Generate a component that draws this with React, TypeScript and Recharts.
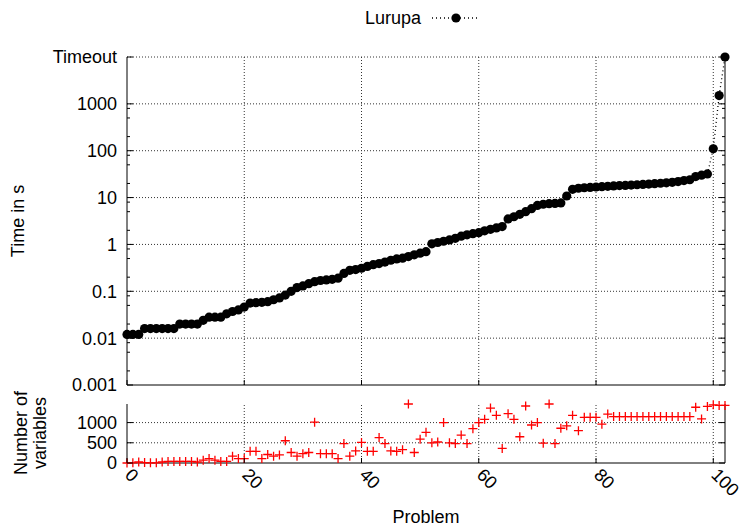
import React from 'react';
import { ComposedChart, Line, XAxis, YAxis, ReferenceLine, Legend } from 'recharts';

const FONT = '"Liberation Sans", Arial, Helvetica, sans-serif';
const FS = 18;

const seriesName = 'Lurupa';

const times = [
  0.012, 0.012, 0.012, 0.016, 0.016, 0.016, 0.016, 0.016, 0.016, 0.02,
  0.02, 0.02, 0.02, 0.024, 0.028, 0.028, 0.028, 0.033, 0.037, 0.04,
  0.046, 0.056, 0.057, 0.058, 0.06, 0.066, 0.072, 0.083, 0.1, 0.12,
  0.13, 0.145, 0.16, 0.17, 0.175, 0.18, 0.19, 0.24, 0.28, 0.29,
  0.31, 0.34, 0.37, 0.39, 0.42, 0.46, 0.49, 0.51, 0.55, 0.6,
  0.65, 0.7, 1.03, 1.1, 1.17, 1.25, 1.35, 1.5, 1.6, 1.7,
  1.78, 1.95, 2.1, 2.25, 2.4, 3.5, 3.9, 4.4, 5.0, 5.8,
  6.8, 7.2, 7.4, 7.5, 7.7, 10.8, 15, 15.8, 16.2, 16.5,
  16.8, 17.1, 17.4, 17.7, 18, 18.2, 18.5, 18.8, 19.1, 19.4,
  19.8, 20.2, 20.6, 21.2, 22, 23, 24, 28, 30, 32,
  110, 1500, 10000,
];

const variables = [
  0, 5, 25, 10, 5, 5, 25, 40, 40, 40,
  40, 40, 25, 70, 110, 70, 40, 40, 170, 110,
  110, 290, 290, 110, 210, 170, 200, 550, 260, 170,
  230, 260, 1010, 230, 230, 230, 110, 480, 170, 300,
  510, 290, 290, 630, 480, 300, 290, 330, 1460, 260,
  590, 760, 500, 520, 1000, 500, 480, 690, 480, 850,
  1000, 1080, 1360, 1180, 360, 1220, 1080, 650, 1410, 940,
  1000, 490, 1460, 480, 860, 920, 1180, 800, 1130, 1130,
  1130, 960, 1210, 1150, 1150, 1150, 1150, 1150, 1150, 1150,
  1150, 1150, 1150, 1150, 1150, 1150, 1150, 1380, 1090, 1400,
  1440, 1425, 1425,
];

const problemTicks = [0, 20, 40, 60, 80, 100];
const problemDomain = [0, 102];
const timeMajorTicks = [0.001, 0.01, 0.1, 1, 10, 100, 1000, 10000];
const timeMajorLabels = ['0.001', '0.01', '0.1', '1', '10', '100', '1000', 'Timeout'];
const minorFactors = [2, 5, 8];
const varTicks = [0, 500, 1000];
const varTickLabels = ['0', '500', '1000'];
const varDomain = [0, 1460];

const timeMinorTicks = timeMajorTicks
  .slice(0, -2)
  .flatMap((d) => minorFactors.map((f) => +(d * f).toPrecision(3)));
const allTimeTicks = [...timeMajorTicks, ...timeMinorTicks].sort((a, b) => a - b);

const data = times.map((t, i) => ({ problem: i, time: t, vars: variables[i] }));

const PLOT_W = 598;
const GRID = { stroke: '#333', strokeWidth: 1, strokeDasharray: '1 2' };

function TimeTick(props: any) {
  const { x, y, payload } = props;
  const v = payload.value;
  const mi = timeMajorTicks.indexOf(v);
  const len = mi >= 0 ? 6 : 3;
  return (
    <g>
      <line x1={x} x2={x + len} y1={y} y2={y} stroke="#000" />
      <line x1={x + PLOT_W} x2={x + PLOT_W - len} y1={y} y2={y} stroke="#000" />
      {mi >= 0 && (
        <text x={x - 10} y={y} dy="0.36em" textAnchor="end" fontSize={FS} fontFamily={FONT} fill="#000">
          {timeMajorLabels[mi]}
        </text>
      )}
    </g>
  );
}

function VarTick(props: any) {
  const { x, y, payload } = props;
  const mi = varTicks.indexOf(payload.value);
  return (
    <g>
      <line x1={x} x2={x + 6} y1={y} y2={y} stroke="#000" />
      <line x1={x + PLOT_W} x2={x + PLOT_W - 6} y1={y} y2={y} stroke="#000" />
      <text x={x - 10} y={y} dy="0.36em" textAnchor="end" fontSize={FS} fontFamily={FONT} fill="#000">
        {varTickLabels[mi]}
      </text>
    </g>
  );
}

function TopXTick(props: any) {
  const { x, y } = props;
  return <line x1={x} x2={x} y1={y} y2={y - 5} stroke="#000" />;
}

function BottomXTick(props: any) {
  const { x, y, payload } = props;
  const tx = x - 3;
  const ty = y + 13;
  return (
    <g>
      <line x1={x} x2={x} y1={y} y2={y - 5} stroke="#000" />
      <text
        x={tx}
        y={ty}
        transform={`rotate(45, ${tx}, ${ty})`}
        textAnchor="start"
        fontSize={FS}
        fontFamily={FONT}
        fill="#000"
      >
        {payload.value}
      </text>
    </g>
  );
}

function PlusDot(props: any) {
  const { cx, cy } = props;
  if (cx == null || cy == null || isNaN(cx) || isNaN(cy)) return null;
  return (
    <path
      d={`M${cx - 4.5},${cy}H${cx + 4.5}M${cx},${cy - 4.5}V${cy + 4.5}`}
      stroke="#ff0000"
      strokeWidth={1.3}
      fill="none"
    />
  );
}

const timeLabel = () => (
  <text
    x={24}
    y={221}
    transform="rotate(-90, 24, 221)"
    textAnchor="middle"
    fontSize={FS}
    fontFamily={FONT}
    fill="#000"
  >
    Time in s
  </text>
);

const varLabel = () => (
  <g>
    <text x={27} y={43} transform="rotate(-90, 27, 43)" textAnchor="middle" fontSize={FS} fontFamily={FONT} fill="#000">
      Number of
    </text>
    <text x={46} y={43} transform="rotate(-90, 46, 43)" textAnchor="middle" fontSize={FS} fontFamily={FONT} fill="#000">
      variables
    </text>
  </g>
);

const problemLabel = () => (
  <text x={426} y={133} textAnchor="middle" fontSize={FS} fontFamily={FONT} fill="#000">
    Problem
  </text>
);

const renderLegend = (props: any) => {
  const item = props.payload && props.payload[0];
  const name = item ? item.value : seriesName;
  return (
    <svg width={743} height={36} style={{ display: 'block' }}>
      <text x={421} y={24} textAnchor="end" fontSize={FS} fontFamily={FONT} fill="#000">
        {name}
      </text>
      <line x1={432} x2={480} y1={18} y2={18} stroke="#000" strokeWidth={1.3} strokeDasharray="1 3" />
      <circle cx={456} cy={18} r={4.6} fill="#000" />
    </svg>
  );
};

export default function App() {
  return (
    <div style={{ position: 'absolute', left: 0, top: 0, width: 743, height: 526, background: '#fff' }}>
      <div style={{ position: 'absolute', left: 0, top: 0 }}>
        <ComposedChart width={743} height={400} data={data} margin={{ top: 57, right: 18, bottom: 0, left: 0 }}>
          <XAxis
            type="number"
            dataKey="problem"
            domain={problemDomain}
            ticks={problemTicks}
            interval={0}
            height={15}
            tickSize={0}
            tickMargin={0}
            tickLine={false}
            axisLine={{ stroke: '#000' }}
            tick={<TopXTick />}
          />
          <YAxis
            yAxisId="l"
            type="number"
            scale="log"
            domain={[0.001, 10000]}
            ticks={allTimeTicks}
            interval={0}
            width={127}
            tickSize={0}
            tickMargin={0}
            tickLine={false}
            axisLine={{ stroke: '#000' }}
            tick={<TimeTick />}
            label={timeLabel}
          />
          {timeMajorTicks.slice(1).map((v) => (
            <ReferenceLine key={'h' + v} yAxisId="l" y={v} {...GRID} />
          ))}
          {problemTicks.slice(1).map((v) => (
            <ReferenceLine key={'v' + v} yAxisId="l" x={v} {...GRID} />
          ))}
          <ReferenceLine yAxisId="l" x={problemDomain[1]} stroke="#000" strokeWidth={1} />
          <Line
            yAxisId="l"
            dataKey="time"
            name={seriesName}
            stroke="#000"
            strokeWidth={1.3}
            strokeDasharray="1 3"
            dot={{ r: 4.6, fill: '#000', stroke: 'none' }}
            activeDot={false}
            isAnimationActive={false}
          />
          <Legend
            verticalAlign="middle"
            align="center"
            layout="horizontal"
            wrapperStyle={{ top: 0, left: 0, width: 743, height: 36 }}
            content={renderLegend}
          />
        </ComposedChart>
      </div>
      <div style={{ position: 'absolute', left: 0, top: 390 }}>
        <ComposedChart width={743} height={136} data={data} margin={{ top: 14, right: 18, bottom: 0, left: 0 }}>
          <XAxis
            type="number"
            dataKey="problem"
            domain={problemDomain}
            ticks={problemTicks}
            interval={0}
            height={63}
            tickSize={0}
            tickMargin={0}
            tickLine={false}
            axisLine={{ stroke: '#000' }}
            tick={<BottomXTick />}
            label={problemLabel}
          />
          <YAxis
            yAxisId="l"
            type="number"
            domain={varDomain}
            ticks={varTicks}
            interval={0}
            width={127}
            tickSize={0}
            tickMargin={0}
            tickLine={false}
            axisLine={{ stroke: '#000' }}
            tick={<VarTick />}
            label={varLabel}
          />
          {varTicks.slice(1).map((v) => (
            <ReferenceLine key={'h' + v} yAxisId="l" y={v} {...GRID} />
          ))}
          {problemTicks.slice(1).map((v) => (
            <ReferenceLine key={'v' + v} yAxisId="l" x={v} {...GRID} />
          ))}
          <ReferenceLine yAxisId="l" x={problemDomain[1]} stroke="#000" strokeWidth={1} />
          <Line
            yAxisId="l"
            dataKey="vars"
            name="Number of variables"
            stroke="none"
            dot={<PlusDot />}
            activeDot={false}
            legendType="none"
            isAnimationActive={false}
          />
        </ComposedChart>
      </div>
    </div>
  );
}
